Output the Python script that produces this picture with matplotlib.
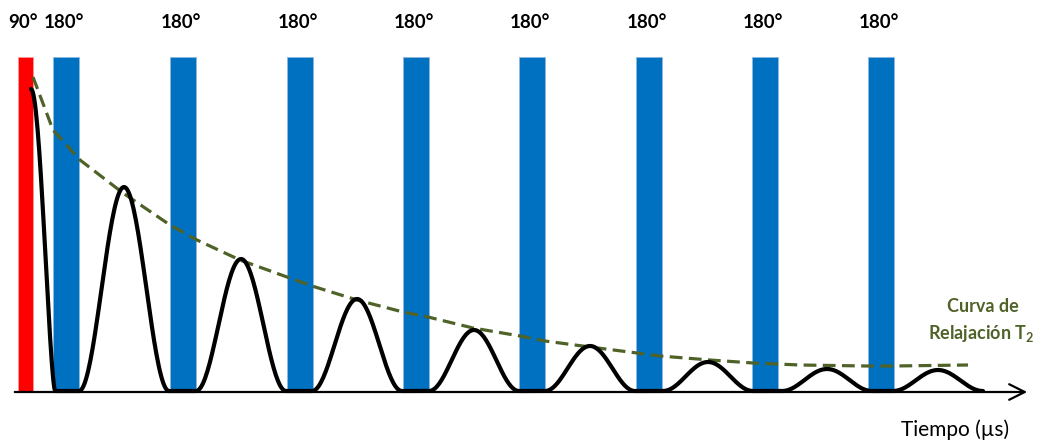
import numpy as np
import matplotlib
matplotlib.use('Agg')
import matplotlib.pyplot as plt

plt.rcParams['font.family'] = ['Lato', 'DejaVu Sans']
plt.rcParams['mathtext.fontset'] = 'custom'
plt.rcParams['mathtext.rm'] = 'Lato:bold'

# %% Data (time axis in arbitrary units, amplitude in arbitrary units)
t90 = 25.5
t180 = [66, 183, 300, 416, 532, 649, 765, 881]
pulse_labels = ['180°'] * len(t180)
pulse_height = 334

fid_amp = 302
echo_t = [124, 241, 357, 474, 590, 708, 827, 938]
echo_amp = [204, 132, 92, 61, 45, 29, 22, 21]

# T2 relaxation envelope
env_t = [33, 53, 80, 123, 170, 197, 240, 287, 312, 357, 403, 428, 473, 520,
         545, 590, 637, 660, 710, 753, 800, 867, 893, 968]
env_a = [314, 261, 231, 198, 166, 151, 131, 114, 105, 91, 79, 74, 63, 55,
         50, 44, 38, 35, 31, 28, 26, 25, 25, 26]

# %% Build the signal line
half = 45
xs = [31 + 24 * s for s in np.linspace(0, 1, 30)]
ys = [fid_amp * np.cos(np.pi / 2 * s) ** 1.5 for s in np.linspace(0, 1, 30)]
for t, a in zip(echo_t, echo_amp):
    xx = np.linspace(t - half, t + half, 80)
    xs += list(xx)
    ys += list(a * np.sin(np.pi * (xx - (t - half)) / (2 * half)) ** 2)

# %% Plot
fig = plt.figure(figsize=(10.40, 4.41), dpi=100)
ax = fig.add_axes([0, 0, 1, 1])
ax.set_xlim(0, 1040)
ax.set_ylim(-50, 391)
ax.axis('off')

ax.bar([t90], [pulse_height], width=15, color='#FF0000', edgecolor='#FF9999', linewidth=0.6, zorder=2)
ax.bar(t180, [pulse_height] * len(t180), width=26, color='#0070C0', edgecolor='#8FB8E0', linewidth=0.6, zorder=2)

ax.plot(xs, ys, color='black', lw=3.0, zorder=4, solid_capstyle='round')
ax.plot(env_t, env_a, color='#4F6228', lw=2.3, ls=(0, (4, 2)), zorder=3)

# baseline with arrow
ax.annotate('', xy=(1030, -1), xytext=(12, -1),
            arrowprops=dict(arrowstyle='->', color='black', lw=1.6, mutation_scale=28))

ax.text(t90 - 2.5, 368, '90°', ha='center', va='center', fontsize=13.5, fontweight='bold')
for t, lab in zip(t180, pulse_labels):
    ax.text(t - 2, 368, lab, ha='center', va='center', fontsize=13.5, fontweight='bold')

ax.text(983, 85, 'Curva de', ha='center', va='center', fontsize=13, fontweight='bold', color='#4F6228')
ax.text(981, 58, 'Relajación T$_2$', ha='center', va='center', fontsize=13, fontweight='bold', color='#4F6228')

ax.text(955, -39, 'Tiempo (µs)', ha='center', va='center', fontsize=15)

fig.savefig('out.png', dpi=100)
